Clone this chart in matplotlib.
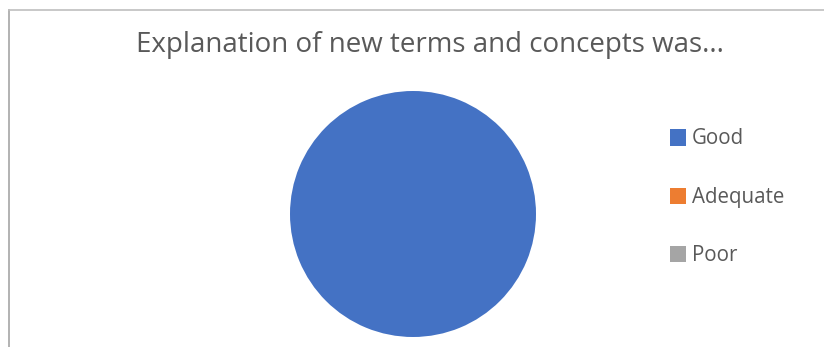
import matplotlib
matplotlib.use("Agg")
import matplotlib.pyplot as plt
from matplotlib.lines import Line2D

categories = ["Good", "Adequate", "Poor"]
values = [100, 0, 0]
colors = ["#4472C4", "#ED7D31", "#A5A5A5"]
title = "Explanation of new terms and concepts was..."

W, H = 824, 347
fig = plt.figure(figsize=(W / 100, H / 100), dpi=100)
fig.patch.set_facecolor("white")

# chart border (top and left visible)
fig.add_artist(Line2D([9 / W, 9 / W], [0, 1 - 10 / H], transform=fig.transFigure, color="#A6A6A6", lw=1.2))
fig.add_artist(Line2D([9 / W, 1], [1 - 10 / H, 1 - 10 / H], transform=fig.transFigure, color="#BFBFBF", lw=1.2))

ax = fig.add_axes([290 / W, 10 / H, 246 / W, 246 / H])
wedges, _ = ax.pie(values, colors=colors, startangle=90, counterclock=False,
                   wedgeprops=dict(linewidth=0))
ax.set_aspect("equal")
ax.set_xlim(-1, 1)
ax.set_ylim(-1, 1)

fig.text(430 / W, 1 - 45 / H, title, ha="center", va="center",
         fontsize=20, color="#595959", family="Open Sans")

leg = fig.legend(wedges, categories, loc="upper left",
                 bbox_to_anchor=(651 / W, 1 - 110 / H), frameon=False,
                 handlelength=0.8, handleheight=0.7, handletextpad=0.3,
                 labelspacing=1.82, prop={"family": "Open Sans", "size": 14.8})
for t in leg.get_texts():
    t.set_color("#595959")
for h in leg.legend_handles:
    h.set_height(h.get_height() * 1.15)
    h.set_y(h.get_y() - h.get_height() * 0.07)
    h.set_width(h.get_height())

fig.savefig("out.png", dpi=100, facecolor="white")
